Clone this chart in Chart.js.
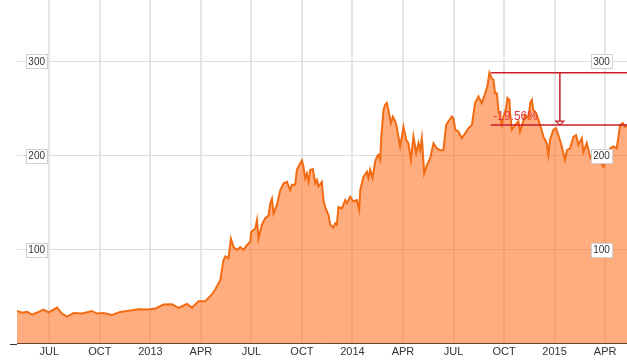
<!DOCTYPE html>
<html><head><meta charset="utf-8">
<script src="https://cdn.jsdelivr.net/npm/chart.js@4"></script>
<style>html,body{margin:0;padding:0;background:#fff}#wrap{width:627px;height:361px}</style>
</head><body><div id="wrap"><canvas id="c" width="627" height="361"></canvas></div>
<script>
// x values: months counted from Jan 2012 (6 = Jul 2012)
const months = [
4.08,4.38,4.68,4.97,5.27,5.66,5.96,6.46,6.75,7.05,
7.44,7.94,8.53,8.83,9.22,9.72,10.21,10.81,11.30,11.89,
12.29,12.78,13.28,13.67,14.17,14.47,14.86,15.26,15.66,15.85,
16.15,16.34,16.45,16.64,16.78,16.94,17.14,17.34,17.53,17.73,
17.93,17.99,18.23,18.33,18.42,18.62,18.82,19.02,19.12,19.22,
19.31,19.51,19.71,19.91,20.11,20.30,20.40,20.60,20.70,20.90,
21.00,21.09,21.19,21.29,21.39,21.49,21.65,21.79,21.89,21.98,
22.18,22.28,22.38,22.58,22.68,22.87,22.97,23.07,23.17,23.37,
23.57,23.67,23.86,24.06,24.26,24.40,24.46,24.65,24.86,24.95,
25.05,25.19,25.35,25.45,25.54,25.65,25.70,25.84,25.94,26.04,
26.14,26.28,26.40,26.54,26.64,26.83,27.03,27.19,27.32,27.47,
27.62,27.78,27.92,28.02,28.12,28.26,28.42,28.61,28.81,29.01,
29.21,29.40,29.56,29.70,29.90,30.00,30.10,30.29,30.49,30.69,
30.89,31.09,31.28,31.48,31.68,31.88,32.01,32.13,32.27,32.37,
32.47,32.57,32.67,32.87,32.96,33.12,33.20,33.32,33.36,33.46,
33.66,33.85,33.95,34.11,34.25,34.45,34.55,34.65,34.74,34.90,
35.04,35.14,35.34,35.54,35.63,35.73,35.93,36.09,36.23,36.43,
36.62,36.73,36.92,37.12,37.28,37.41,37.62,37.71,37.91,38.11,
38.30,38.51,38.70,38.90,39.10,39.30,39.49,39.69,39.89,40.05,
40.19,40.30];
const prices = [
34.9,33.1,33.9,31.0,33.2,36.4,33.4,38.4,32.1,28.8,
32.8,32.1,34.9,32.1,32.8,30.6,33.9,35.3,36.7,36.4,
37.4,41.7,42.0,38.1,42.3,38.4,45.3,45.3,52.7,57.7,
67.6,88.8,92.8,90.8,111.6,102.7,99.7,102.7,99.7,104.7,
108.6,119.0,122.5,131.4,111.6,126.5,133.4,136.4,149.2,154.2,
138.3,147.3,163.1,170.5,172.0,163.1,169.0,169.0,184.9,191.8,
194.8,187.8,176.0,180.9,172.0,184.9,185.4,170.5,174.0,167.1,
172.0,152.2,145.3,136.4,126.5,123.5,127.9,126.5,145.3,143.8,
152.7,149.2,156.2,151.2,152.7,142.3,163.1,177.4,182.9,176.0,
184.9,176.0,193.8,198.7,200.7,195.3,216.6,248.2,253.9,255.7,
248.2,234.4,241.3,236.4,229.0,209.6,230.4,216.6,213.1,195.3,
220.1,202.4,213.1,205.7,218.5,180.9,189.8,196.8,213.1,207.6,
205.7,205.7,232.4,236.4,241.3,239.3,227.4,225.5,218.5,223.5,
229.0,232.4,255.7,262.7,255.7,266.1,273.4,288.0,281.9,280.5,
266.1,266.1,248.2,232.4,241.3,250.2,261.1,259.1,245.3,227.4,
232.4,236.4,225.5,234.4,243.3,239.3,255.7,259.1,248.2,245.3,
237.9,232.4,220.1,213.1,200.7,216.6,227.4,229.0,221.5,209.6,
195.3,205.7,207.6,220.1,221.5,211.3,218.5,203.7,213.1,198.7,
191.8,193.8,193.8,187.8,195.3,207.6,209.6,207.6,232.4,234.4,
230.4,231.7];
const tickValues = [6,9,12,15,18,21,24,27,30,33,36,39];
const tickLabels = ['JUL','OCT','2013','APR','JUL','OCT','2014','APR','JUL','OCT','2015','APR'];
const yTickValues = [100,200,300];
const annotStart = 32.21;
const peakValue = 288.0;
const currentValue = 232.3;
const changeLabel = '-19.56%';

const FONT = "Arial, 'Liberation Sans', sans-serif";

const overlay = {
  id:'overlay',
  afterDatasetsDraw(chart){
    const ctx = chart.ctx, xs = chart.scales.x, ys = chart.scales.y, ca = chart.chartArea;
    ctx.save();
    ctx.strokeStyle = '#333'; ctx.lineWidth = 1;
    ctx.beginPath(); ctx.moveTo(10, Math.round(ca.bottom)+0.5); ctx.lineTo(ca.left, Math.round(ca.bottom)+0.5); ctx.stroke();
    ctx.font = '10px ' + FONT;
    ctx.textAlign = 'center'; ctx.textBaseline = 'middle';
    yTickValues.forEach(v => {
      const y = ys.getPixelForValue(v);
      [36.7, 601.5].forEach(cx => {
        const t = String(v);
        const w = ctx.measureText(t).width + 4, h = 14;
        ctx.fillStyle = '#fff';
        ctx.fillRect(Math.round(cx - w/2)+0.5, Math.round(y - h/2)+0.5, Math.round(w), h);
        ctx.strokeStyle = '#d0d0d0';
        ctx.strokeRect(Math.round(cx - w/2)+0.5, Math.round(y - h/2)+0.5, Math.round(w), h);
        ctx.fillStyle = '#333';
        ctx.fillText(t, cx, y + 0.5);
      });
    });
    const x0 = xs.getPixelForValue(annotStart), x1 = ca.right;
    const yT = ys.getPixelForValue(peakValue);
    const yB = ys.getPixelForValue(currentValue);
    const xm = (x0 + x1) / 2 + 1;
    ctx.strokeStyle = '#cc1f28'; ctx.lineWidth = 1.5;
    ctx.beginPath();
    ctx.moveTo(x0, yT); ctx.lineTo(x1, yT);
    ctx.moveTo(x0, yB); ctx.lineTo(x1, yB);
    ctx.moveTo(xm, yT); ctx.lineTo(xm, yB - 4);
    ctx.stroke();
    ctx.lineWidth = 1.2;
    ctx.beginPath();
    ctx.moveTo(xm - 4, yB - 4); ctx.lineTo(xm + 4, yB - 4); ctx.lineTo(xm, yB); ctx.closePath();
    ctx.stroke();
    ctx.font = '12px ' + FONT;
    ctx.textAlign = 'left'; ctx.textBaseline = 'alphabetic';
    ctx.fillStyle = '#e23a3a';
    ctx.fillText(changeLabel, x0 + 2.5, yB - 5);
    ctx.restore();
  }
};

new Chart(document.getElementById('c').getContext('2d'), {
  type: 'line',
  data: { datasets: [{
    data: months.map((m, i) => ({x: m, y: prices[i]})),
    borderColor: '#f26b12', borderWidth: 2,
    backgroundColor: 'rgba(255,118,40,0.6)', fill: 'origin',
    pointRadius: 0, tension: 0
  }]},
  options: {
    responsive: false, animation: false, events: [],
    layout: { padding: { left: 17, right: 0, top: 0, bottom: 0 } },
    plugins: { legend: { display: false }, tooltip: { enabled: false } },
    scales: {
      x: {
        type: 'linear', min: 4.08, max: 40.3,
        afterBuildTicks: s => { s.ticks = tickValues.map(v => ({ value: v })); },
        ticks: { autoSkip: false, maxRotation: 0, padding: 2, color: '#333',
          font: { family: FONT, size: 11 },
          callback: (v, i) => tickLabels[i] },
        grid: { color: '#e6e6e6', lineWidth: 2, drawTicks: false },
        border: { display: true, color: '#333', width: 1 }
      },
      y: {
        min: 0, max: 365.2,
        afterBuildTicks: s => { s.ticks = yTickValues.map(v => ({ value: v })); },
        ticks: { display: false },
        grid: { color: '#dddddd', lineWidth: 1, drawTicks: false },
        border: { display: false }
      }
    }
  },
  plugins: [overlay]
});
</script>
</body></html>
